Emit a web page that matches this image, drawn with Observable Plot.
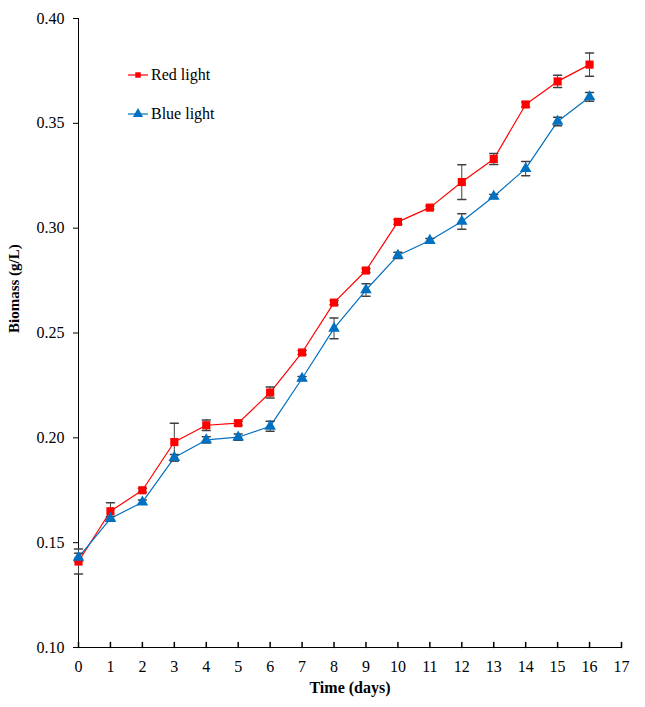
<!DOCTYPE html>
<html>
<head>
<meta charset="utf-8">
<script src="https://cdn.jsdelivr.net/npm/d3@7"></script>
<script src="https://cdn.jsdelivr.net/npm/@observablehq/plot@0.6"></script>
<style>
  body { margin: 0; background: white; }
  #wrap { position: relative; width: 645px; height: 707px; }
  #legend { position: absolute; left: 0; top: 0; pointer-events: none; }
</style>
</head>
<body>
<div id="wrap"></div>
<script>
const days = [0,1,2,3,4,5,6,7,8,9,10,11,12,13,14,15,16];
const redValues  = [0.141,0.165,0.175,0.198,0.206,0.207,0.2216,0.2407,0.2645,0.2798,0.303,0.3098,0.322,0.333,0.359,0.370,0.378];
const redErrors  = [0.006,0.004,0.001,0.009,0.0025,0.001,0.0026,0.001,0.001,0.001,0.0011,0.0008,0.0083,0.0026,0.0012,0.0029,0.0056];
const blueValues = [0.143,0.1615,0.1693,0.1906,0.1990,0.2003,0.2055,0.2283,0.2522,0.2705,0.2870,0.2941,0.3032,0.3151,0.3284,0.3509,0.3626];
const blueErrors = [0.002,0.001,0.001,0.0015,0.0015,0.0015,0.0024,0.001,0.005,0.003,0.0015,0.001,0.0037,0.001,0.0034,0.002,0.0021];
const xTicks = [0,1,2,3,4,5,6,7,8,9,10,11,12,13,14,15,16,17];
const yTicks = [0.10,0.15,0.20,0.25,0.30,0.35,0.40];
const seriesNames = ["Red light","Blue light"];
const colors = ["#FF0000","#0070C0"];

const rows = [];
days.forEach((d,i) => rows.push({day:d, v:redValues[i], e:redErrors[i], s:seriesNames[0]}));
days.forEach((d,i) => rows.push({day:d, v:blueValues[i], e:blueErrors[i], s:seriesNames[1]}));
const red = rows.filter(r => r.s === seriesNames[0]);
const blue = rows.filter(r => r.s === seriesNames[1]);

const lineShape = {draw(context, l) { context.moveTo(0, 0); context.lineTo(0, -l); }};

const chart = Plot.plot({
  width: 645, height: 707,
  marginLeft: 78, marginRight: 24, marginTop: 18, marginBottom: 60,
  style: {fontFamily: "'Liberation Serif', 'Times New Roman', serif", fontSize: "16px", color: "black", background: "white"},
  x: {domain: [0, 17]},
  y: {domain: [0.10, 0.40]},
  marks: [
    Plot.axisY({ticks: yTicks, tickFormat: d3.format(".2f"), tickSize: 5, tickPadding: 9, label: null, fontSize: 16}),
    Plot.axisX({ticks: xTicks, tickSize: 0, tickPadding: 13, label: null, fontSize: 16}),
    Plot.vector(xTicks, {x: d => d, frameAnchor: "bottom", length: 5, anchor: "start", shape: lineShape, stroke: "black"}),
    Plot.ruleX([0], {stroke: "black"}),
    Plot.ruleY([0.10], {stroke: "black"}),
    Plot.line(red, {x: "day", y: "v", stroke: colors[0], strokeWidth: 1.2}),
    Plot.line(blue, {x: "day", y: "v", stroke: colors[1], strokeWidth: 1.2}),
    Plot.ruleX(rows, {x: "day", y1: d => d.v - d.e, y2: d => d.v + d.e, stroke: "#404040", strokeWidth: 1}),
    Plot.vector(rows, {x: "day", y: d => d.v + d.e, length: 8, rotate: 90, anchor: "middle", shape: lineShape, stroke: "#404040"}),
    Plot.vector(rows, {x: "day", y: d => d.v - d.e, length: 8, rotate: 90, anchor: "middle", shape: lineShape, stroke: "#404040"}),
    Plot.dot(red, {x: "day", y: "v", symbol: "square", r: 4.6, fill: colors[0]}),
    Plot.dot(blue, {x: "day", y: "v", symbol: "triangle", r: 4.3, fill: colors[1]}),
    Plot.text(["Biomass (g/L)"], {frameAnchor: "left", dx: -64, rotate: -90, fontWeight: "bold", fontSize: 15}),
    Plot.text(["Time (days)"], {frameAnchor: "bottom", dy: 45, fontWeight: "bold", fontSize: 16})
  ]
});
const wrap = document.getElementById("wrap");
wrap.appendChild(chart);

// Legend overlay
const ns = "http://www.w3.org/2000/svg";
const leg = document.createElementNS(ns, "svg");
leg.setAttribute("id", "legend");
leg.setAttribute("width", 645);
leg.setAttribute("height", 707);
const legendRows = [{name: seriesNames[0], color: colors[0], y: 75, shape: "square"}, {name: seriesNames[1], color: colors[1], y: 114, shape: "triangle"}];
legendRows.forEach(r => {
  const ln = document.createElementNS(ns, "line");
  ln.setAttribute("x1", 128); ln.setAttribute("x2", 148);
  ln.setAttribute("y1", r.y); ln.setAttribute("y2", r.y);
  ln.setAttribute("stroke", r.color); ln.setAttribute("stroke-width", 1.2);
  leg.appendChild(ln);
  const p = document.createElementNS(ns, "path");
  p.setAttribute("d", d3.symbol(r.shape === "square" ? d3.symbolSquare : d3.symbolTriangle, r.shape === "square" ? 30 : 45)());
  p.setAttribute("transform", `translate(138,${r.y})`);
  p.setAttribute("fill", r.color);
  leg.appendChild(p);
  const t = document.createElementNS(ns, "text");
  t.setAttribute("x", 151); t.setAttribute("y", r.y + 5);
  t.setAttribute("font-family", "'Liberation Serif', 'Times New Roman', serif");
  t.setAttribute("font-size", 16);
  t.textContent = r.name;
  leg.appendChild(t);
});
wrap.appendChild(leg);
</script>
</body>
</html>
